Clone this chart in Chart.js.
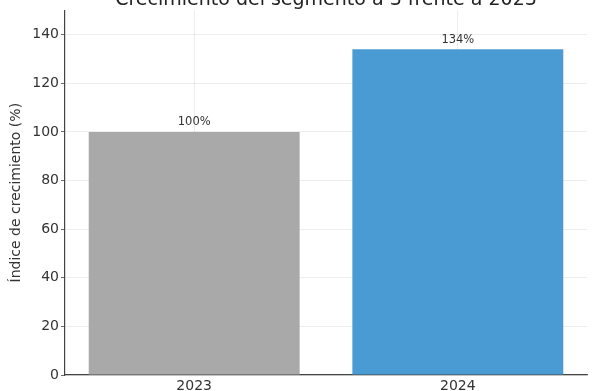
<!DOCTYPE html>
<html>
<head>
<meta charset="utf-8">
<script src="https://cdn.jsdelivr.net/npm/chart.js@4"></script>
<style>
  body { margin: 0; background: #fff; }
  canvas { display: block; }
</style>
</head>
<body>
<canvas id="canvas-growth" width="593" height="391"></canvas>
<script>
// growth data
const years = ['2023', '2024'];
const growth = [100, 134];
const barColors = ['#a9a9a9', '#4a9bd3'];
const yTicks = [0, 20, 40, 60, 80, 100, 120, 140];
const chartTitle = 'Crecimiento del segmento a 3 frente a 2023';

Chart.defaults.font.family = 'DejaVu Sans';
Chart.defaults.color = '#333';

// title sits half off the top edge, so draw it by hand
const titlePlugin = {
    id: 'topTitle',
    afterDraw(chart) {
        const ctx = chart.ctx;
        const area = chart.chartArea;
        ctx.save();
        ctx.font = '19px DejaVu Sans';
        ctx.fillStyle = '#222';
        ctx.textAlign = 'center';
        ctx.textBaseline = 'alphabetic';
        ctx.fillText(chartTitle, (area.left + area.right) / 2, 5);
        ctx.restore();
    }
};

// percent labels above each bar
const valueLabels = {
    id: 'valueLabels',
    afterDatasetsDraw(chart) {
        const ctx = chart.ctx;
        const meta = chart.getDatasetMeta(0);
        ctx.save();
        ctx.font = '11.5px DejaVu Sans';
        ctx.fillStyle = '#333';
        ctx.textAlign = 'center';
        ctx.textBaseline = 'bottom';
        meta.data.forEach((bar, i) => {
            ctx.fillText(growth[i] + '%', bar.x, bar.y - 4);
        });
        ctx.restore();
    }
};

const ctx = document.getElementById('canvas-growth').getContext('2d');
const myChart = new Chart(ctx, {
    type: 'bar',
    data: {
        datasets: [{
            data: years.map((y, i) => ({x: i, y: growth[i]})),
            backgroundColor: barColors,
            borderWidth: 0,
            barPercentage: 0.8,
            categoryPercentage: 1.0
        }]
    },
    options: {
        responsive: false,
        animation: false,
        layout: {
            padding: {left: 0, right: 6, top: 7, bottom: 0}
        },
        plugins: {
            legend: {display: false},
            tooltip: {enabled: false}
        },
        scales: {
            x: {
                type: 'linear',
                min: -0.49,
                max: 1.49,
                offset: false,
                z: 1,
                afterBuildTicks: scale => {
                    scale.ticks = years.map((y, i) => ({value: i}));
                },
                afterFit: scale => { scale.height = 16; },
                ticks: {
                    font: {size: 14},
                    padding: 3,
                    callback: v => years[v]
                },
                grid: {
                    offset: false,
                    color: 'rgba(0,0,0,0.09)',
                    lineWidth: 0.8,
                    drawTicks: false
                },
                border: {color: '#444', width: 1.2}
            },
            y: {
                min: 0,
                max: 150,
                z: 1,
                afterBuildTicks: scale => {
                    scale.ticks = yTicks.map(v => ({value: v}));
                },
                afterFit: scale => { scale.width = 65; },
                ticks: {
                    font: {size: 14},
                    padding: 2
                },
                grid: {
                    color: 'rgba(0,0,0,0.09)',
                    lineWidth: 0.8,
                    tickLength: 4,
                    tickColor: '#444'
                },
                border: {color: '#444', width: 1.2},
                title: {
                    display: true,
                    text: 'Índice de crecimiento (%)',
                    font: {size: 14},
                    color: '#333',
                    padding: {top: 8, bottom: 0}
                }
            }
        }
    },
    plugins: [titlePlugin, valueLabels]
});
</script>
</body>
</html>
